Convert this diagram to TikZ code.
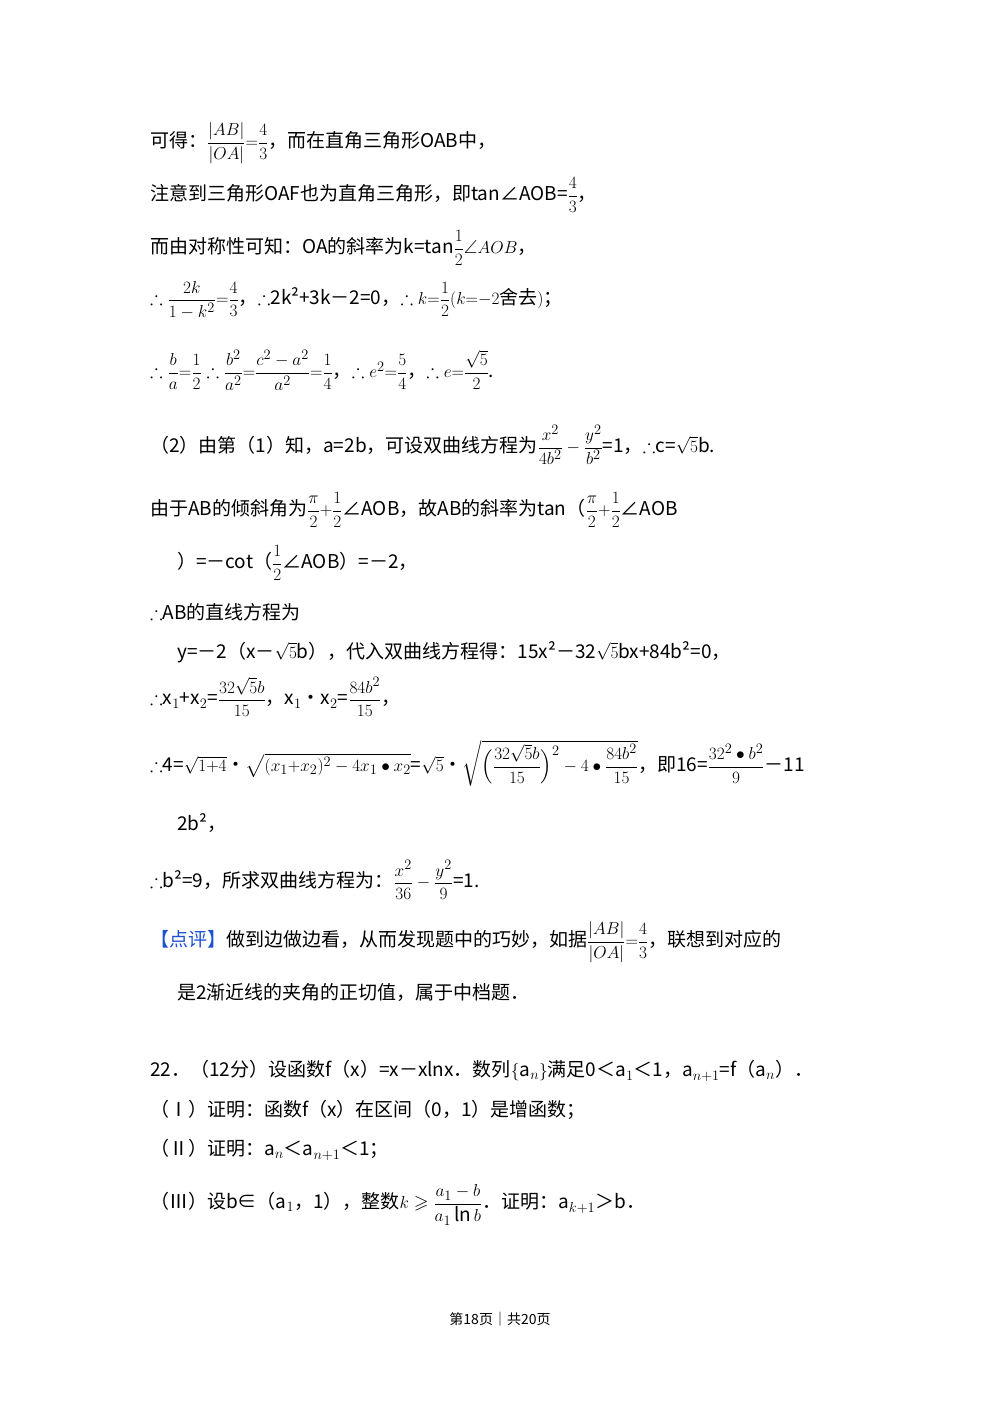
\documentclass[tikz,border=0pt]{standalone}
\usepackage{amsmath,amssymb}
\usepackage{fontspec}
\setmainfont{Noto Sans CJK SC}
\begin{document}
\begin{tikzpicture}[x=1pt,y=-1pt,
  ln/.style={anchor=west,inner sep=0pt,font=\fontsize{19}{22}\selectfont},
  ft/.style={anchor=center,inner sep=0pt,font=\fontsize{14}{16}\selectfont}]
\useasboundingbox (0,0) rectangle (1000,1414);
\def\F#1#2{\dfrac{#1}{#2}}
\node[ln] (l1) at (150,143) {可得：$\F{|AB|}{|OA|}{=}\F{4}{3}$，而在直角三角形OAB中，};
\node[ln] (l2) at (150,195) {注意到三角形OAF也为直角三角形，即tan∠AOB=$\F{4}{3}$，};
\node[ln] (l3) at (150,248) {而由对称性可知：OA的斜率为k=tan$\F{1}{2}\angle AOB$，};
\node[ln] (l4) at (150,300) {$\therefore\F{2k}{1-k^2}{=}\F{4}{3}$，$\therefore$2k²+3k－2=0，$\therefore k{=}\F{1}{2}(k{=}{-}2$舍去$)$；};
\node[ln] (l5) at (150,370) {$\therefore\F{b}{a}{=}\F{1}{2}\therefore\F{b^2}{a^2}{=}\F{c^2-a^2}{a^2}{=}\F{1}{4}$，$\therefore e^2{=}\F{5}{4}$，$\therefore e{=}\F{\sqrt5}{2}$.};
\node[ln] (l6) at (150,445) {（2）由第（1）知，a=2b，可设双曲线方程为$\F{x^2}{4b^2}-\F{y^2}{b^2}$=1，$\therefore$c=$\sqrt5$b.};
\node[ln] (l7) at (150,510) {由于AB的倾斜角为$\F{\pi}{2}{+}\F{1}{2}$∠AOB，故AB的斜率为tan（$\F{\pi}{2}{+}\F{1}{2}$∠AOB};
\node[ln] (l8) at (177,563) {）=－cot（$\F{1}{2}$∠AOB）=－2，};
\node[ln] (l9) at (150,612) {$\therefore$AB的直线方程为};
\node[ln] (l10) at (177,652) {y=－2（x－$\sqrt5$b），代入双曲线方程得：15x²－32$\sqrt5$bx+84b²=0，};
\node[ln] (l11) at (150,697) {$\therefore$x$_1$+x$_2$=$\F{32\sqrt5 b}{15}$，x$_1$•x$_2$=$\F{84b^2}{15}$，};
\node[ln] (l12) at (150,763) {$\therefore$4=$\sqrt{1{+}4}$•$\sqrt{(x_1{+}x_2)^2-4x_1\bullet x_2}$=$\sqrt5$•$\sqrt{\Bigl(\F{32\sqrt5 b}{15}\Bigr)^2-4\bullet\F{84b^2}{15}}$，即16=$\F{32^2\bullet b^2}{9}$－11};
\node[ln] (l13) at (177,823) {2b²，};
\node[ln] (l14) at (150,880) {$\therefore$b²=9，所求双曲线方程为：$\F{x^2}{36}-\F{y^2}{9}$=1.};
\node[ln] (l15) at (150,942) {\textcolor[HTML]{1E50D2}{【点评】}做到边做边看，从而发现题中的巧妙，如据$\F{|AB|}{|OA|}{=}\F{4}{3}$，联想到对应的};
\node[ln] (l16) at (177,992) {是2渐近线的夹角的正切值，属于中档题．};
\node[ln] (l17) at (150,1071) {22．（12分）设函数f（x）=x－xlnx．数列$\{$a$_n\}$满足0＜a$_1$＜1，a$_{n+1}$=f（a$_n$）．};
\node[ln] (l18) at (150,1110) {（Ⅰ）证明：函数f（x）在区间（0，1）是增函数；};
\node[ln] (l19) at (150,1150) {（Ⅱ）证明：a$_n$＜a$_{n+1}$＜1；};
\node[ln] (l20) at (150,1205) {（Ⅲ）设b∈（a$_1$，1），整数$k\geqslant\F{a_1-b}{a_1\ln b}$．证明：a$_{k+1}$＞b．};
\node[ft] (pg) at (500,1319) {第18页｜共20页};
\end{tikzpicture}
\end{document}
